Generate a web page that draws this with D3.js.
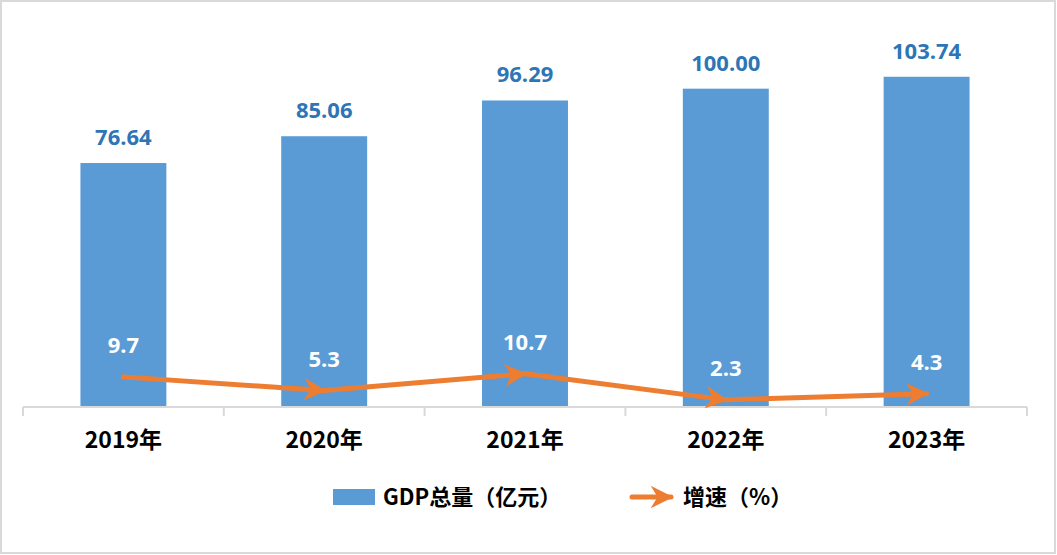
<!DOCTYPE html>
<html>
<head>
<meta charset="utf-8">
<script src="https://cdn.jsdelivr.net/npm/d3@7"></script>
<style>
  body { margin: 0; background: #fff; }
  text { font-family: "Noto Sans CJK SC", "Noto Sans", sans-serif; font-weight: bold; }
</style>
</head>
<body>
<div id="chart-area"></div>
<script>
// Data
const years = ["2019年", "2020年", "2021年", "2022年", "2023年"];
const gdp = [76.64, 85.06, 96.29, 100.00, 103.74];
const growth = [9.7, 5.3, 10.7, 2.3, 4.3];
const gdpLabels = ["76.64", "85.06", "96.29", "100.00", "103.74"];
const growthLabels = ["9.7", "5.3", "10.7", "2.3", "4.3"];

const W = 1057, H = 555;
const margin = { top: 25, right: 30, bottom: 148, left: 23 };
const width = W - margin.left - margin.right;
const height = H - margin.top - margin.bottom;

const svg = d3.select("#chart-area")
    .append("svg")
    .attr("width", W)
    .attr("height", H);

// Outer border
svg.append("rect")
    .attr("x", 1).attr("y", 1)
    .attr("width", W - 3).attr("height", H - 3)
    .attr("fill", "#fff")
    .attr("stroke", "#d9d9d9")
    .attr("stroke-width", 2);

svg.append("defs").append("marker")
    .attr("id", "arrow")
    .attr("viewBox", "0 0 10 10")
    .attr("refX", 9).attr("refY", 5)
    .attr("markerWidth", 4.5).attr("markerHeight", 4.5)
    .attr("markerUnits", "strokeWidth")
    .attr("orient", "auto")
    .append("path")
    .attr("d", "M0,0 L10,5 L0,10 L3,5 Z")
    .attr("fill", "#ed7d31");

const g = svg.append("g")
    .attr("transform", "translate(" + margin.left + "," + margin.top + ")");

// Scales
const xScale = d3.scaleBand().domain(years).range([0, width]).paddingInner(0.572).paddingOuter(0.286);
const yScale = d3.scaleLinear().domain([0, 120]).range([height, 0]);
const y2Scale = d3.scaleLinear().domain([0, 123]).range([height, 0]);
const cx = d => xScale(d) + xScale.bandwidth() / 2;

// Bars
g.selectAll("rect.bar")
    .data(years)
    .enter()
    .append("rect")
    .attr("class", "bar")
    .attr("x", d => xScale(d))
    .attr("y", (d, i) => yScale(gdp[i]))
    .attr("width", xScale.bandwidth())
    .attr("height", (d, i) => height - yScale(gdp[i]))
    .attr("fill", "#5b9bd5");

// Bar labels
g.selectAll("text.bar-label")
    .data(years)
    .enter()
    .append("text")
    .attr("class", "bar-label")
    .attr("x", d => cx(d))
    .attr("y", (d, i) => yScale(gdp[i]) - 18)
    .attr("text-anchor", "middle")
    .attr("font-size", 22)
    .attr("fill", "#2e75b6")
    .style("font-family", "'Open Sans', 'Noto Sans', sans-serif")
    .text((d, i) => gdpLabels[i]);

// X axis
const xAxis = g.append("g")
    .attr("transform", "translate(0," + height + ")");
xAxis.append("line")
    .attr("x1", 0).attr("x2", width)
    .attr("stroke", "#d9d9d9").attr("stroke-width", 2);
const tickPos = years.map(d => xScale(d) - xScale.step() * xScale.paddingInner() / 2).concat([width]);
xAxis.selectAll("line.tick")
    .data(tickPos)
    .enter()
    .append("line")
    .attr("class", "tick")
    .attr("x1", d => d).attr("x2", d => d)
    .attr("y1", 0).attr("y2", 9)
    .attr("stroke", "#d9d9d9").attr("stroke-width", 2);
xAxis.selectAll("text")
    .data(years)
    .enter()
    .append("text")
    .attr("x", d => cx(d))
    .attr("y", 41)
    .attr("text-anchor", "middle")
    .attr("font-size", 23)
    .attr("fill", "#000")
    .text(d => d);

// Growth line: one segment per step, each ends in an arrow
const segs = d3.pairs(years.map((d, i) => [cx(d), y2Scale(growth[i])]));
g.selectAll("line.seg")
    .data(segs)
    .enter()
    .append("line")
    .attr("class", "seg")
    .attr("x1", d => d[0][0]).attr("y1", d => d[0][1])
    .attr("x2", d => d[1][0]).attr("y2", d => d[1][1])
    .attr("stroke", "#ed7d31")
    .attr("stroke-width", 5)
    .attr("stroke-linecap", "round")
    .attr("marker-end", "url(#arrow)");

// Growth labels
g.selectAll("text.growth-label")
    .data(years)
    .enter()
    .append("text")
    .attr("class", "growth-label")
    .attr("x", d => cx(d))
    .attr("y", (d, i) => y2Scale(growth[i]) - 24)
    .attr("text-anchor", "middle")
    .attr("font-size", 22)
    .attr("fill", "#fff")
    .style("font-family", "'Open Sans', 'Noto Sans', sans-serif")
    .text((d, i) => growthLabels[i]);

// Legend
const legend = svg.append("g").attr("transform", "translate(333,497)");
legend.append("rect")
    .attr("x", 0).attr("y", -8)
    .attr("width", 42).attr("height", 16)
    .attr("fill", "#5b9bd5");
legend.append("text")
    .attr("x", 50).attr("y", 8)
    .attr("font-size", 22)
    .text("GDP总量（亿元）");
legend.append("line")
    .attr("x1", 299).attr("x2", 338)
    .attr("y1", 0).attr("y2", 0)
    .attr("stroke", "#ed7d31")
    .attr("stroke-width", 5)
    .attr("stroke-linecap", "round")
    .attr("marker-end", "url(#arrow)");
legend.append("text")
    .attr("x", 350).attr("y", 8)
    .attr("font-size", 22)
    .text("增速（%）");
</script>
</body>
</html>
